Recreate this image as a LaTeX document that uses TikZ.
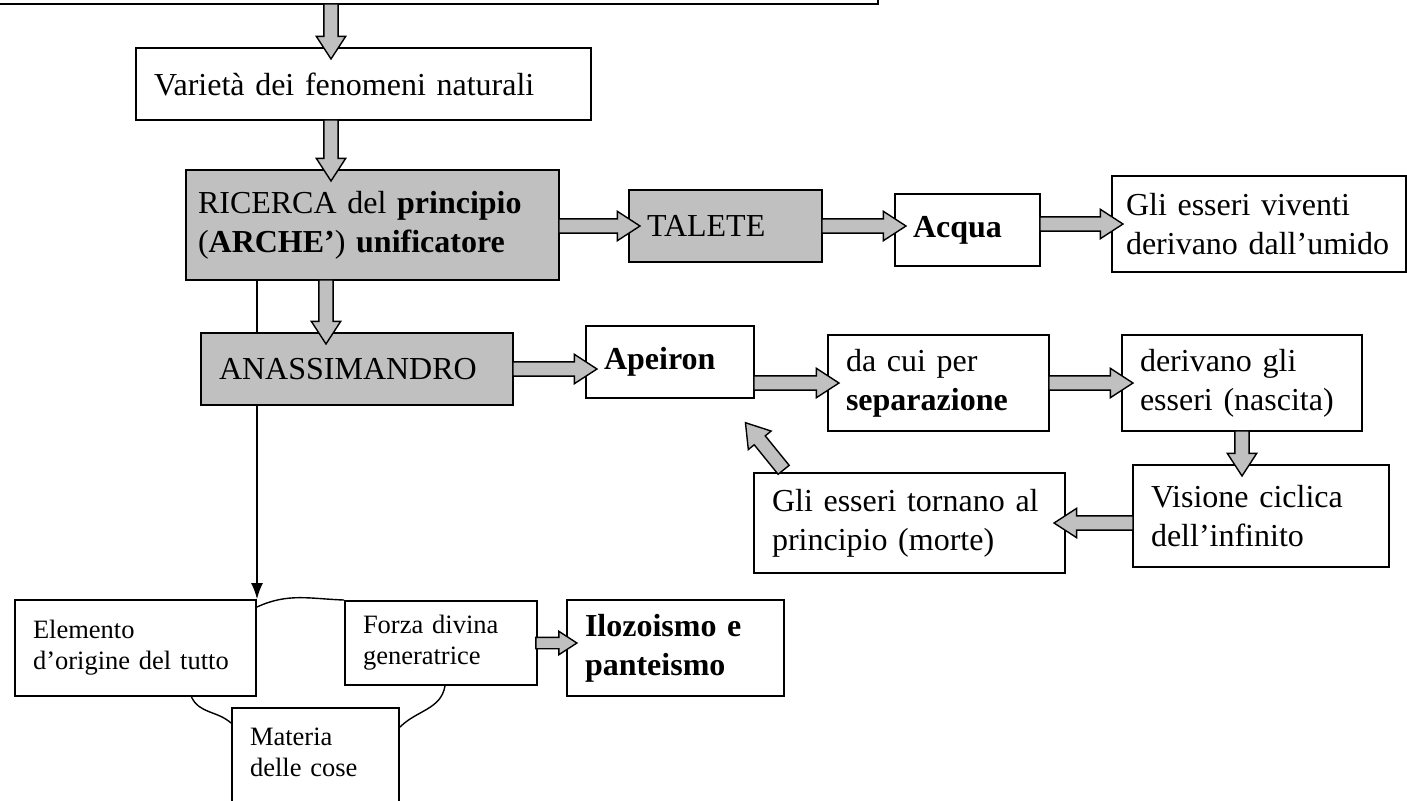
\documentclass[tikz,border=0pt]{standalone}
\usepackage{fontspec}
\setmainfont{Liberation Serif}
\usetikzlibrary{shapes.arrows,calc,arrows.meta,backgrounds}
\definecolor{argento}{HTML}{C0C0C0}
\newcommand{\grande}{\fontsize{16}{19.5}\selectfont}
\newcommand{\piccolo}{\fontsize{13.25}{15.5}\selectfont}
\newcommand{\freccia}[4][]{%
  \path let \p1=(#3), \p2=(#4), \n1={atan2(\y2-\y1,\x2-\x1)}, \n2={veclen(\x2-\x1,\y2-\y1)} in
    node[blocco, minimum height=\n2+6.5pt, rotate=\n1, #1] (#2) at ($(\p1)!0.5!(\p2)$) {};}

\begin{document}
\begin{tikzpicture}[x=0.5pt, y=-0.5pt,
    box/.style={draw, line width=1pt, rectangle, anchor=north west, align=left, inner xsep=9pt, inner ysep=0pt, font=\grande},
    grigio/.style={box, fill=argento},
    minuto/.style={font=\piccolo},
    blocco/.style={single arrow, draw, fill=argento, line width=0.7pt, inner xsep=0pt, inner ysep=3.2pt,
      minimum width=0pt, single arrow head extend=3.8pt, single arrow tip angle=66, outer sep=0pt, anchor=center},
    bloccopic/.style={inner ysep=2.5pt, single arrow head extend=3pt}]
    \useasboundingbox (0,0) rectangle (1407,800);

    \node[box, minimum width=460pt, minimum height=40pt, anchor=south east] (fonte) at (879,5) {};
    \node[box, text width=209.5pt, minimum height=36pt] (var) at (135,47) {Varietà dei fenomeni naturali};
    \node[grigio, inner xsep=6pt, text width=174.5pt, minimum height=55pt] (ric) at (185,169)
      {RICERCA del \textbf{principio}\\(\textbf{ARCHE’}) \textbf{unificatore}};
    \node[grigio, text width=78.5pt, minimum height=36pt] (tal) at (628,189) {TALETE};
    \node[box, text width=54.5pt, minimum height=36pt] (acq) at (894,193) {\textbf{Acqua}};
    \node[box, inner xsep=7pt, text width=133pt, minimum height=48pt] (viv) at (1111,175) {Gli esseri viventi\\derivano dall’umido};
    \node[grigio, text width=138pt, minimum height=36pt] (ana) at (200,332) {ANASSIMANDRO};
    \node[box, text width=66pt, minimum height=36pt] (ape) at (585,325) {\textbf{Apeiron}};
    \node[box, text width=92.5pt, minimum height=48pt] (sep) at (827,334) {da cui per\\\textbf{separazione}};
    \node[box, text width=102pt, minimum height=48pt] (der) at (1121,334) {derivano gli\\esseri (nascita)};
    \node[box, text width=110pt, minimum height=51pt] (vis) at (1132,464) {Visione ciclica\\dell’infinito};
    \node[box, text width=137.5pt, minimum height=50pt] (tor) at (753,472) {Gli esseri tornano al\\principio (morte)};
    \node[box, minuto, text width=102.5pt, minimum height=48pt] (ele) at (14,599) {Elemento\\d’origine del tutto};
    \node[box, minuto, text width=78pt, minimum height=42pt] (for) at (344,600) {Forza divina\\generatrice};
    \node[box, text width=90.5pt, minimum height=48pt] (ilo) at (566,599) {\textbf{Ilozoismo e}\\\textbf{panteismo}};
    \node[box, minuto, text width=65.5pt, minimum height=75pt] (mat) at (231,707) {Materia\\delle cose\\~\\~};

    \coordinate (c1) at ([xshift=98pt]var.north west);
    \coordinate (c6) at ([xshift=-15.5pt]ana.north);
    \coordinate (rit) at ([yshift=20pt]tor.north west);

    \freccia{f1}{c1 |- fonte.south}{c1}
    \freccia{f2}{c1 |- var.south}{c1 |- ric.north}
    \freccia{f3}{ric.east |- tal.west}{tal.west}
    \freccia{f4}{tal.east}{tal.east -| acq.west}
    \freccia{f5}{acq.east |- viv.west}{viv.west}
    \freccia{f6}{c6 |- ric.south}{c6}
    \freccia{f7}{ana.east}{ana.east -| ape.west}
    \freccia{f8}{sep.west -| ape.east}{sep.west}
    \freccia{f9}{sep.east}{der.west}
    \freccia{f10}{der.south}{der.south |- vis.north}
    \freccia{f11}{tor.east -| vis.west}{tor.east}
    \freccia{f12}{[xshift=15pt,yshift=1.5pt]tor.north west}{rit}
    \freccia[bloccopic]{f13}{for.east}{for.east -| ilo.west}

    \begin{scope}[on background layer]
      \draw[line width=0.7pt, -{Latex[length=8pt,width=6pt]}] (ric.south -| ele.north east) -- (ele.north east);
    \end{scope}
    \draw[line width=0.7pt] ([yshift=-4pt]ele.north east) to[out=25,in=178] (for.north west);
    \draw[line width=0.7pt] ([xshift=28pt]ele.south) to[out=-65,in=138] ([yshift=-8pt]mat.north west);
    \draw[line width=0.7pt] ([xshift=2pt]for.south) to[out=-100,in=45] ([yshift=-10pt]mat.north east);
  \end{tikzpicture}
\end{document}
